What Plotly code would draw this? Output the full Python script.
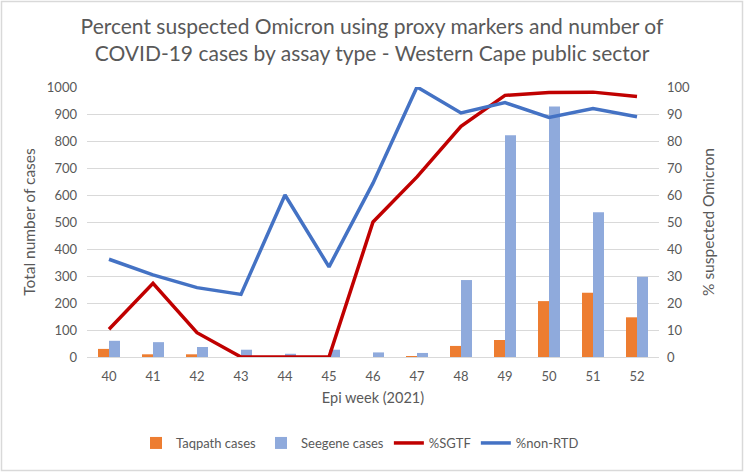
import plotly.graph_objects as go

weeks = ["40", "41", "42", "43", "44", "45", "46", "47", "48", "49", "50", "51", "52"]
taqpath_cases = [30, 10, 10, 0, 0, 0, 0, 2, 41, 63, 207, 238, 147]
seegene_cases = [60, 55, 37, 27, 12, 27, 17, 15, 285, 821, 928, 536, 297]
pct_sgtf = [10.3, 27.3, 9, 0, 0, 0, 50, 66.7, 85.4, 96.9, 98.0, 98.1, 96.5]
pct_non_rtd = [36.2, 30.4, 25.7, 23.2, 60, 33.4, 64.4, 100, 90.4, 94.2, 88.7, 92.0, 89.0]

FONT = "Lato"
GREY = "#595959"

fig = go.Figure()
fig.add_trace(go.Bar(x=weeks, y=taqpath_cases, name="Taqpath cases", marker_color="#ED7D31", marker_line_width=0))
fig.add_trace(go.Bar(x=weeks, y=seegene_cases, name="Seegene cases", marker_color="#8FAADC", marker_line_width=0))
fig.add_trace(go.Scatter(x=weeks, y=pct_sgtf, name="%SGTF", mode="lines", line=dict(color="#C00000", width=3.5), yaxis="y2"))
fig.add_trace(go.Scatter(x=weeks, y=pct_non_rtd, name="%non-RTD", mode="lines", line=dict(color="#4472C4", width=3.5), yaxis="y2"))

L, R, T, B = 87, 85, 87, 115
W, H = 744, 472
pw, ph = W - L - R, H - T - B

fig.update_layout(
    width=W, height=H,
    margin=dict(l=L, r=R, t=T, b=B, autoexpand=False),
    paper_bgcolor="white", plot_bgcolor="white",
    font=dict(family=FONT, color=GREY, size=12.5),
    title=dict(
        text="Percent suspected Omicron using proxy markers and number of<br>COVID-19 cases by assay type - Western Cape public sector",
        x=0.5, xanchor="center", y=1 - 34 / H, yanchor="middle",
        font=dict(size=21, color=GREY, family=FONT),
    ),
    barmode="group", bargap=0.5, bargroupgap=0,
    xaxis=dict(
        type="category", showgrid=False, showline=True, linecolor="#D9D9D9", linewidth=1,
        ticks="", tickfont=dict(size=13, color=GREY), ticklabelstandoff=7,
        title=dict(text="Epi week (2021)", font=dict(size=14.5, color=GREY), standoff=10),
    ),
    yaxis=dict(
        range=[0, 1000], dtick=100, showgrid=True, gridcolor="#D9D9D9", gridwidth=1,
        zeroline=False, showline=False, ticks="", tickfont=dict(size=13, color=GREY),
        ticklabelstandoff=9,
        title=dict(text="Total number of cases", font=dict(size=15.5, color=GREY), standoff=7),
    ),
    yaxis2=dict(
        range=[0, 100], dtick=10, overlaying="y", side="right", showgrid=False,
        zeroline=False, showline=False, ticks="", tickfont=dict(size=13, color=GREY),
        ticklabelstandoff=7,
        title=dict(text="% suspected Omicron", font=dict(size=15.5, color=GREY), standoff=14),
    ),
    legend=dict(
        orientation="h", x=0.5 - 13 / pw, xanchor="center", y=-(443 - (H - B)) / ph, yanchor="middle",
        font=dict(size=13, color=GREY), traceorder="normal", itemwidth=30,
    ),
    shapes=[dict(
        type="rect", xref="paper", yref="paper",
        x0=-(L - 1.5) / pw, x1=1 + (R - 1.5) / pw,
        y0=-(B - 1.5) / ph, y1=1 + (T - 1.5) / ph,
        line=dict(color="#D9D9D9", width=1.5), fillcolor="rgba(0,0,0,0)", layer="below",
    )],
)

fig.write_html(
    "out.html",
    config={"displayModeBar": False},
    post_script="document.body.style.margin='0';document.body.style.overflow='hidden';",
)
